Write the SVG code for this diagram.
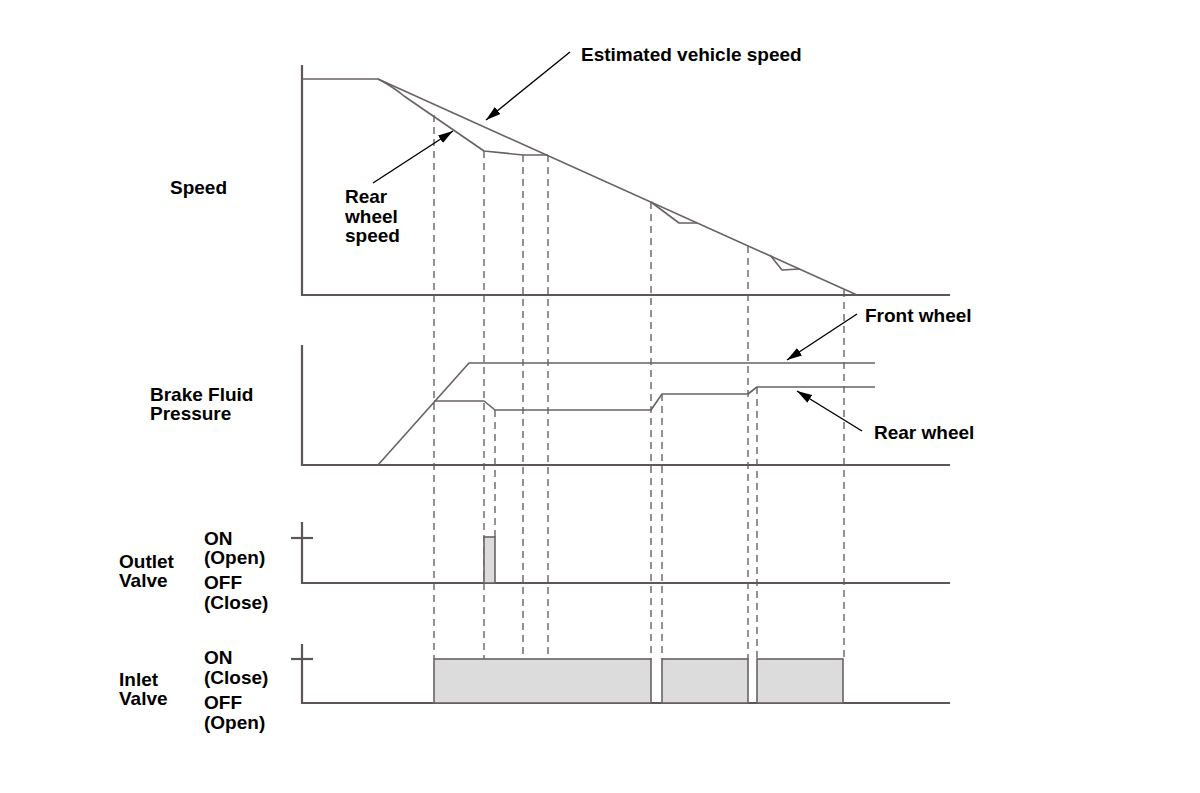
<svg xmlns="http://www.w3.org/2000/svg" width="1200" height="793" viewBox="0 0 1200 793">
<defs>
<style>
.axis{stroke:#5e5555;stroke-width:2.2;fill:none}
.data{stroke:#6a6262;stroke-width:1.6;fill:none;stroke-linejoin:round}
.dash{stroke:#777;stroke-width:1.6;stroke-dasharray:7 5;fill:none}
.pulse{fill:#dcdcdc;stroke:#6a6262;stroke-width:1.6}
.arrow{stroke:#000;stroke-width:1.4;fill:none;marker-end:url(#ah)}
.lbl{font-family:"Liberation Sans",Arial,sans-serif;font-weight:bold;font-size:19px;fill:#000}
</style>
<marker id="ah" markerUnits="userSpaceOnUse" markerWidth="16" markerHeight="10" refX="15" refY="5" orient="auto">
<path d="M0,0.5 L15,5 L0,9.5 Z" fill="#000"/>
</marker>
</defs>
<rect width="1200" height="793" fill="#fff"/>

<g id="dashed-guides">
<line class="dash" x1="434" y1="115" x2="434" y2="659"/>
<line class="dash" x1="484" y1="151" x2="484" y2="659"/>
<line class="dash" x1="495" y1="410" x2="495" y2="537"/>
<line class="dash" x1="523" y1="155" x2="523" y2="659"/>
<line class="dash" x1="548" y1="155" x2="548" y2="659"/>
<line class="dash" x1="651" y1="202" x2="651" y2="659"/>
<line class="dash" x1="662" y1="394" x2="662" y2="659"/>
<line class="dash" x1="748" y1="246" x2="748" y2="659"/>
<line class="dash" x1="757" y1="387" x2="757" y2="659"/>
<line class="dash" x1="844" y1="290" x2="844" y2="659"/>
</g>

<g id="speed-graph">
<polyline class="axis" points="302,65 302,295 950,295"/>
<polyline class="data" points="302,79 378,79 857,295"/>
<path class="data" d="M378,79 Q392,86 404,96 L484,151 L523,155 L548,155"/>
<polyline class="data" points="651,202 679,223 697,223"/>
<polyline class="data" points="770,255 782,270 800,269"/>
</g>

<g id="pressure-graph">
<polyline class="axis" points="302,345 302,465 950,465"/>
<polyline class="data" points="378,465 469,363 875,363"/>
<polyline class="data" points="434,401 484,401 495,410 651,410 662,394 748,394 757,387 875,387"/>
</g>

<g id="outlet-valve">
<polyline class="axis" points="302,522 302,583 950,583"/>
<line class="axis" x1="291" y1="538" x2="313" y2="538"/>
<rect class="pulse" x="484" y="537" width="11" height="46"/>
</g>

<g id="inlet-valve">
<polyline class="axis" points="302,644 302,703 950,703"/>
<line class="axis" x1="291" y1="659" x2="313" y2="659"/>
<rect class="pulse" x="434" y="659" width="217" height="44"/>
<rect class="pulse" x="662" y="659" width="86" height="44"/>
<rect class="pulse" x="757" y="659" width="86" height="44"/>
</g>

<g id="connectors">
<line class="arrow" x1="570" y1="52" x2="486" y2="120"/>
<line class="arrow" x1="373" y1="183" x2="453" y2="131"/>
<line class="arrow" x1="857" y1="314" x2="787" y2="360"/>
<line class="arrow" x1="862" y1="431" x2="797" y2="391"/>
</g>

<g id="labels">
<text class="lbl" x="581" y="61">Estimated vehicle speed</text>
<text class="lbl" x="170" y="194">Speed</text>
<text class="lbl" x="345" y="203">Rear</text>
<text class="lbl" x="345" y="223">wheel</text>
<text class="lbl" x="345" y="242">speed</text>
<text class="lbl" x="865" y="322">Front wheel</text>
<text class="lbl" x="150" y="401">Brake Fluid</text>
<text class="lbl" x="150" y="420">Pressure</text>
<text class="lbl" x="874" y="439">Rear wheel</text>
<text class="lbl" x="119" y="568">Outlet</text>
<text class="lbl" x="119" y="587">Valve</text>
<text class="lbl" x="204" y="545">ON</text>
<text class="lbl" x="204" y="564">(Open)</text>
<text class="lbl" x="204" y="589">OFF</text>
<text class="lbl" x="204" y="609">(Close)</text>
<text class="lbl" x="119" y="686">Inlet</text>
<text class="lbl" x="119" y="705">Valve</text>
<text class="lbl" x="204" y="664">ON</text>
<text class="lbl" x="204" y="684">(Close)</text>
<text class="lbl" x="204" y="709">OFF</text>
<text class="lbl" x="204" y="729">(Open)</text>
</g>
</svg>
